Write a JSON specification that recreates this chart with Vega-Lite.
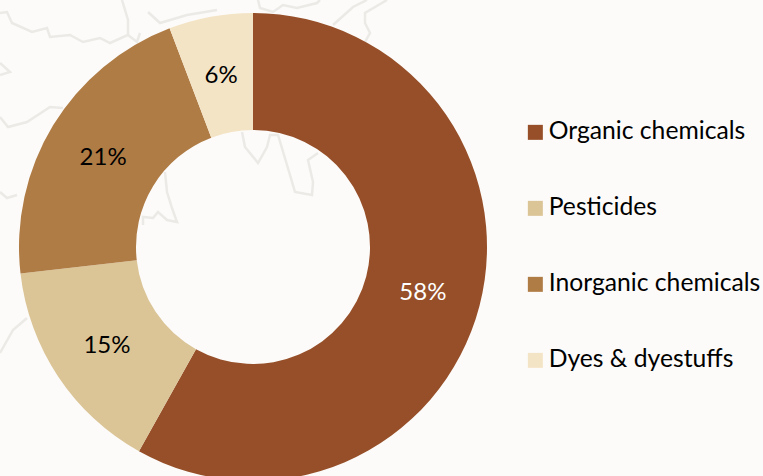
{"$schema":"https://vega.github.io/schema/vega-lite/v6.json","width":506,"height":494,"padding":{"left":0,"top":0,"right":257,"bottom":0},"autosize":{"type":"none"},"background":"#fcfbf9","view":{"stroke":null},"data":{"values":[{"category":"Organic chemicals","share":58.1,"label":"58%","order":1},{"category":"Pesticides","share":15.1,"label":"15%","order":2},{"category":"Inorganic chemicals","share":21,"label":"21%","order":3},{"category":"Dyes & dyestuffs","share":5.8,"label":"6%","order":4}]},"layer":[{"data":{"values":[{"trace":"a","seq":1,"mapX":165,"mapY":172},{"trace":"a","seq":2,"mapX":167,"mapY":192},{"trace":"a","seq":3,"mapX":172,"mapY":208},{"trace":"a","seq":4,"mapX":177,"mapY":222},{"trace":"a","seq":5,"mapX":167,"mapY":220},{"trace":"a","seq":6,"mapX":158,"mapY":212},{"trace":"a","seq":7,"mapX":153,"mapY":218},{"trace":"a","seq":8,"mapX":143,"mapY":217},{"trace":"a","seq":9,"mapX":143,"mapY":225},{"trace":"b","seq":1,"mapX":242,"mapY":132},{"trace":"b","seq":2,"mapX":245,"mapY":147},{"trace":"b","seq":3,"mapX":258,"mapY":163},{"trace":"b","seq":4,"mapX":267,"mapY":147},{"trace":"b","seq":5,"mapX":270,"mapY":135},{"trace":"b","seq":6,"mapX":278,"mapY":135},{"trace":"b","seq":7,"mapX":290,"mapY":175},{"trace":"b","seq":8,"mapX":295,"mapY":192},{"trace":"b","seq":9,"mapX":312,"mapY":195},{"trace":"b","seq":10,"mapX":313,"mapY":182},{"trace":"b","seq":11,"mapX":308,"mapY":160},{"trace":"b","seq":12,"mapX":318,"mapY":153},{"trace":"c","seq":1,"mapX":0,"mapY":13},{"trace":"c","seq":2,"mapX":7,"mapY":12},{"trace":"c","seq":3,"mapX":12,"mapY":23},{"trace":"c","seq":4,"mapX":32,"mapY":32},{"trace":"c","seq":5,"mapX":47,"mapY":28},{"trace":"c","seq":6,"mapX":50,"mapY":37},{"trace":"c","seq":7,"mapX":70,"mapY":35},{"trace":"c","seq":8,"mapX":83,"mapY":42},{"trace":"c","seq":9,"mapX":100,"mapY":38},{"trace":"c","seq":10,"mapX":110,"mapY":43},{"trace":"c","seq":11,"mapX":128,"mapY":35},{"trace":"c","seq":12,"mapX":128,"mapY":20},{"trace":"c","seq":13,"mapX":122,"mapY":0},{"trace":"d","seq":1,"mapX":128,"mapY":35},{"trace":"d","seq":2,"mapX":137,"mapY":42},{"trace":"d","seq":3,"mapX":140,"mapY":33},{"trace":"e","seq":1,"mapX":0,"mapY":117},{"trace":"e","seq":2,"mapX":8,"mapY":127},{"trace":"e","seq":3,"mapX":27,"mapY":122},{"trace":"e","seq":4,"mapX":50,"mapY":107},{"trace":"e","seq":5,"mapX":63,"mapY":108},{"trace":"f","seq":1,"mapX":0,"mapY":63},{"trace":"f","seq":2,"mapX":10,"mapY":72},{"trace":"f","seq":3,"mapX":0,"mapY":75},{"trace":"g","seq":1,"mapX":148,"mapY":12},{"trace":"g","seq":2,"mapX":160,"mapY":23},{"trace":"g","seq":3,"mapX":187,"mapY":15},{"trace":"g","seq":4,"mapX":217,"mapY":10},{"trace":"h","seq":1,"mapX":258,"mapY":0},{"trace":"h","seq":2,"mapX":260,"mapY":8},{"trace":"h","seq":3,"mapX":273,"mapY":12},{"trace":"h","seq":4,"mapX":283,"mapY":5},{"trace":"h","seq":5,"mapX":297,"mapY":8},{"trace":"h","seq":6,"mapX":317,"mapY":3},{"trace":"h","seq":7,"mapX":320,"mapY":0},{"trace":"i","seq":1,"mapX":333,"mapY":25},{"trace":"i","seq":2,"mapX":353,"mapY":7},{"trace":"i","seq":3,"mapX":367,"mapY":0},{"trace":"j","seq":1,"mapX":387,"mapY":0},{"trace":"j","seq":2,"mapX":365,"mapY":13},{"trace":"j","seq":3,"mapX":365,"mapY":23},{"trace":"j","seq":4,"mapX":370,"mapY":33},{"trace":"j","seq":5,"mapX":365,"mapY":42},{"trace":"k","seq":1,"mapX":0,"mapY":353},{"trace":"k","seq":2,"mapX":13,"mapY":330},{"trace":"k","seq":3,"mapX":27,"mapY":318},{"trace":"l","seq":1,"mapX":0,"mapY":192},{"trace":"l","seq":2,"mapX":7,"mapY":198},{"trace":"l","seq":3,"mapX":17,"mapY":195}]},"mark":{"type":"line","color":"#ebeae7","strokeWidth":2.5,"clip":true},"encoding":{"x":{"field":"mapX","type":"quantitative","axis":null,"scale":{"domain":[0,506],"nice":false}},"y":{"field":"mapY","type":"quantitative","axis":null,"scale":{"domain":[0,494],"nice":false,"reverse":true}},"detail":{"field":"trace","type":"nominal"},"order":{"field":"seq","type":"quantitative"}}},{"mark":{"type":"arc","outerRadius":234,"innerRadius":117},"encoding":{"theta":{"field":"share","type":"quantitative","stack":true},"order":{"field":"order","type":"ordinal"},"color":{"field":"category","type":"nominal","sort":["Organic chemicals","Pesticides","Inorganic chemicals","Dyes & dyestuffs"],"scale":{"domain":["Organic chemicals","Pesticides","Inorganic chemicals","Dyes & dyestuffs"],"range":["#964f28","#dbc597","#b07c45","#f4e4c6"]},"legend":{"title":null,"orient":"none","legendX":523,"legendY":120,"padding":0,"symbolType":"square","symbolSize":225,"symbolStrokeWidth":0,"symbolOpacity":1,"labelFont":"Lato","labelFontSize":24.7,"labelColor":"#000000","labelOffset":1,"rowPadding":50,"labelLimit":260}}}},{"mark":{"type":"text","radius":175.5,"font":"Lato","fontSize":24,"dy":2},"encoding":{"theta":{"field":"share","type":"quantitative","stack":true},"order":{"field":"order","type":"ordinal"},"text":{"field":"label","type":"nominal"},"color":{"condition":{"test":"datum.order === 1","value":"#ffffff"},"value":"#000000"}}}]}
